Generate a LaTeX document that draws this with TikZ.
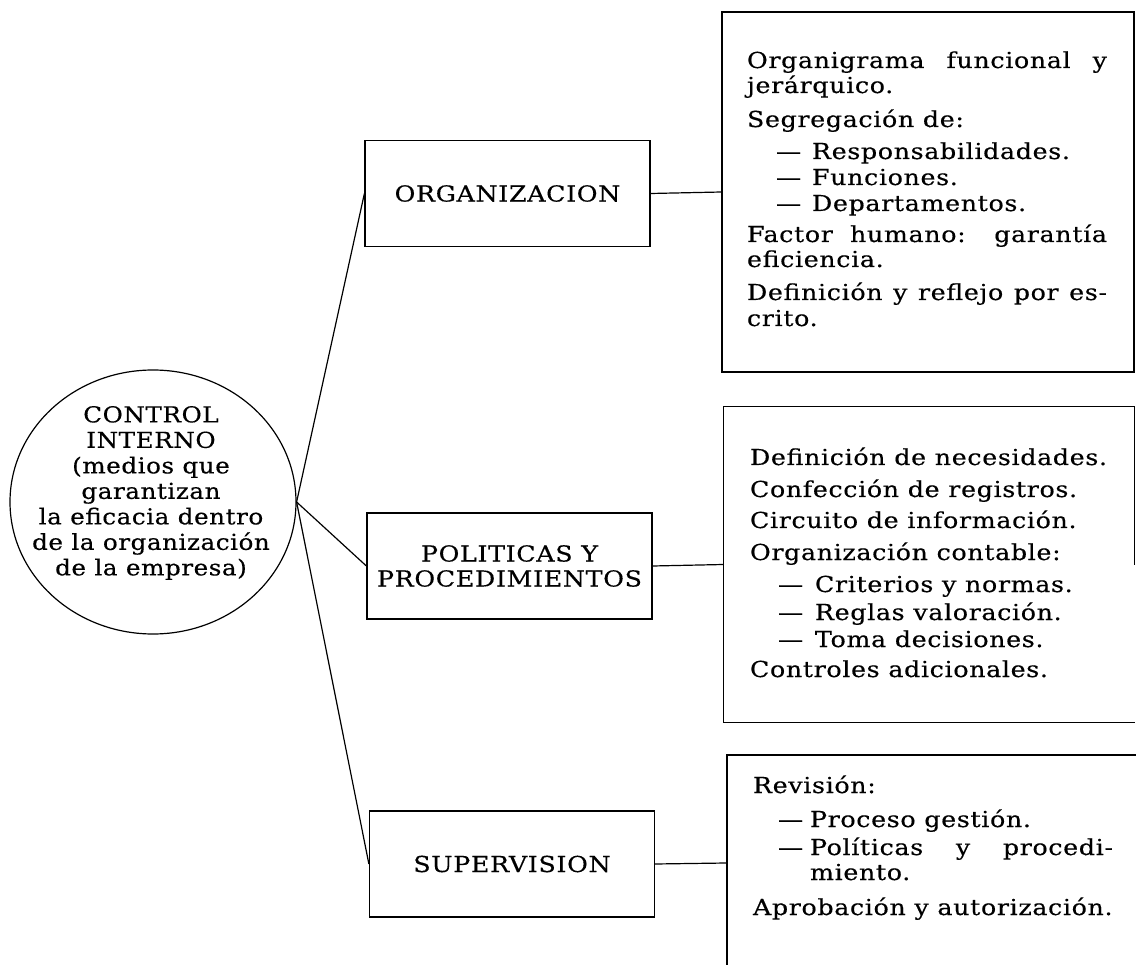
\documentclass[tikz,border=0pt]{standalone}
\usepackage{fontspec}
\setmainfont{DejaVu Serif}[LetterSpace=3,FakeStretch=1.15,FakeBold=0.4]
\newfontfamily\circfont{DejaVu Serif}[LetterSpace=2.5,FakeStretch=1.12,FakeBold=0.4]
\usetikzlibrary{shapes.geometric}
\begin{document}
\begin{tikzpicture}[x=1pt,y=-1pt,line width=1.2pt,
  font=\fontsize{22}{25}\selectfont,
  lbl/.style={draw, minimum width=285pt, minimum height=106pt, align=center, inner sep=0pt},
  rbox/.style={draw, inner sep=0pt},
  ln/.style={anchor=base west, inner sep=0pt, outer sep=0pt},
  circ/.style={draw, ellipse, inner sep=0pt, minimum width=286pt, minimum height=264pt}]
\useasboundingbox (0,0) rectangle (1136,965);
\clip (0,0) rectangle (1136,965);

% central ellipse
\node[circ] (ci) at (153,502) {};
\node[align=center, inner sep=0pt, font=\circfont\fontsize{22}{25.5}\selectfont] (ct) at (151,493)
  {CONTROL\\INTERNO\\(medios que\\garantizan\\la eficacia dentro\\de la organización\\de la empresa)};

% middle boxes
\node[lbl] (org) at (507.5,193.5) {ORGANIZACION};
\node[lbl] (pol) at (509.5,566) {POLITICAS Y\\PROCEDIMIENTOS};
\node[lbl] (sup) at (512,864) {SUPERVISION};

% right boxes
\node[rbox, minimum width=412pt, minimum height=360pt] (r1) at (928,192) {};
\node[inner sep=0pt, minimum width=410pt, minimum height=315pt] (r2) at (929,564.5) {};
\draw (r2.east) -- (r2.north east) -- (r2.north west) -- (r2.south west) -- (r2.south east);
\node[rbox, minimum width=423pt, minimum height=216pt] (r3) at (938.5,863) {};

% connectors
\draw (ci.east) -- (org.west);
\draw (ci.east) -- (pol.west);
\draw (ci.east) -- (sup.west);
\draw (org.east) -- (r1.west);
\draw (pol.east) -- (r2.west);
\draw (sup.east) -- (r3.west);

% box 1 text
\node[ln] (a1) at (747,68) {\makebox[360pt][s]{Organigrama funcional y}};
\node[ln] (a2) at (747,93) {jerárquico.};
\node[ln] (a3) at (747,127) {Segregación de:};
\node[ln] (a4) at (776,159) {\makebox[36pt][l]{—}Responsabilidades.};
\node[ln] (a5) at (776,185) {\makebox[36pt][l]{—}Funciones.};
\node[ln] (a6) at (776,211) {\makebox[36pt][l]{—}Departamentos.};
\node[ln] (a7) at (747,242) {\makebox[360pt][s]{Factor humano: garantía}};
\node[ln] (a8) at (747,267) {eficiencia.};
\node[ln] (a9) at (747,300) {\makebox[360pt][s]{Definición y reflejo por es-}};
\node[ln] (a10) at (747,326) {crito.};

% box 2 text
\node[ln] (b1) at (750,465) {Definición de necesidades.};
\node[ln] (b2) at (750,497) {Confección de registros.};
\node[ln] (b3) at (750,528) {Circuito de información.};
\node[ln] (b4) at (750,560) {Organización contable:};
\node[ln] (b5) at (778,592) {\makebox[37pt][l]{—}Criterios y normas.};
\node[ln] (b6) at (778,620) {\makebox[37pt][l]{—}Reglas valoración.};
\node[ln] (b7) at (778,647) {\makebox[37pt][l]{—}Toma decisiones.};
\node[ln] (b8) at (750,677) {Controles adicionales.};

% box 3 text
\node[ln] (c1) at (753,793) {Revisión:};
\node[ln] (c2) at (778,827) {\makebox[32pt][l]{—}Proceso gestión.};
\node[ln] (c3) at (778,855) {\makebox[32pt][l]{—}\makebox[303pt][s]{Políticas y procedi-}};
\node[ln] (c4) at (810,880) {miento.};
\node[ln] (c5) at (753,915) {Aprobación y autorización.};
\end{tikzpicture}
\end{document}
